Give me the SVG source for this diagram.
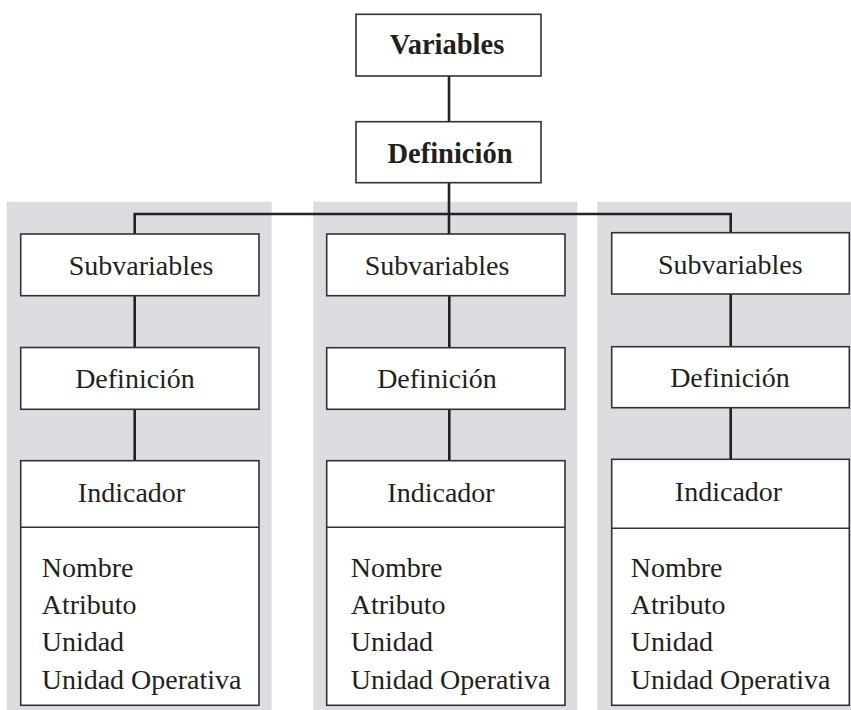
<svg xmlns="http://www.w3.org/2000/svg" width="851" height="710" viewBox="0 0 851 710">
  <rect width="851" height="710" fill="#ffffff"/>
  <g id="panels" fill="#dcdde0">
    <rect x="6.7" y="201.7" width="265" height="508.3"/>
    <rect x="313.3" y="201.7" width="264" height="508.3"/>
    <rect x="597.3" y="201.7" width="253.7" height="508.3"/>
  </g>
  <g id="connectors" stroke="#222222" stroke-width="2.6" fill="none">
    <line x1="449" y1="76" x2="449" y2="121.7"/>
    <line x1="449" y1="182.7" x2="449" y2="234"/>
    <polyline points="134.7,234 134.7,214 730.7,214 730.7,233"/>
    <line x1="134.7" y1="295.7" x2="134.7" y2="347.5"/>
    <line x1="134.7" y1="409.3" x2="134.7" y2="460.7"/>
    <line x1="449.3" y1="295.7" x2="449.3" y2="347.7"/>
    <line x1="449.3" y1="409.3" x2="449.3" y2="460.7"/>
    <line x1="730.7" y1="294" x2="730.7" y2="346.7"/>
    <line x1="730.7" y1="407.7" x2="730.7" y2="459.3"/>
  </g>
  <g id="variables">
    <rect x="356" y="14.3" width="185" height="61.7" fill="#ffffff" stroke="#333333" stroke-width="1.6"/>
    <text x="447" y="54.3" text-anchor="middle" fill="#231f20" font-family="Liberation Serif" style="font-family: 'Liberation Serif', serif; font-size: 28.5px; font-weight: bold">Variables</text>
  </g>
  <g id="definicion">
    <rect x="356" y="121.7" width="185" height="61" fill="#ffffff" stroke="#333333" stroke-width="1.6"/>
    <text x="450" y="162.7" text-anchor="middle" fill="#231f20" font-family="Liberation Serif" style="font-family: 'Liberation Serif', serif; font-size: 28.5px; font-weight: bold">Definición</text>
  </g>
  <g id="subvariables-1">
    <rect x="20.7" y="234" width="238.3" height="61.7" fill="#ffffff" stroke="#333333" stroke-width="1.6"/>
    <text x="141" y="275" text-anchor="middle" fill="#231f20" font-family="Liberation Serif" style="font-family: 'Liberation Serif', serif; font-size: 28px">Subvariables</text>
  </g>
  <g id="definicion-1">
    <rect x="20.7" y="347.5" width="238.3" height="61.8" fill="#ffffff" stroke="#333333" stroke-width="1.6"/>
    <text x="135" y="388" text-anchor="middle" fill="#231f20" font-family="Liberation Serif" style="font-family: 'Liberation Serif', serif; font-size: 28px">Definición</text>
  </g>
  <g id="indicador-1">
    <rect x="20.7" y="460.7" width="238.3" height="244.6" fill="#ffffff" stroke="#333333" stroke-width="1.6"/>
    <line x1="20.7" y1="527.3" x2="259" y2="527.3" stroke="#333333" stroke-width="1.6"/>
    <text x="131.5" y="501.7" text-anchor="middle" fill="#231f20" font-family="Liberation Serif" style="font-family: 'Liberation Serif', serif; font-size: 28px">Indicador</text>
    <text x="41.7" y="577" fill="#231f20" font-family="Liberation Serif" style="font-family: 'Liberation Serif', serif; font-size: 28px">Nombre</text>
    <text x="41.7" y="614" fill="#231f20" font-family="Liberation Serif" style="font-family: 'Liberation Serif', serif; font-size: 28px">Atributo</text>
    <text x="41.7" y="651" fill="#231f20" font-family="Liberation Serif" style="font-family: 'Liberation Serif', serif; font-size: 28px">Unidad</text>
    <text x="41.7" y="688.5" fill="#231f20" font-family="Liberation Serif" style="font-family: 'Liberation Serif', serif; font-size: 28px">Unidad Operativa</text>
  </g>
  <g id="subvariables-2">
    <rect x="326.7" y="234" width="238.3" height="61.7" fill="#ffffff" stroke="#333333" stroke-width="1.6"/>
    <text x="437" y="274.5" text-anchor="middle" fill="#231f20" font-family="Liberation Serif" style="font-family: 'Liberation Serif', serif; font-size: 28px">Subvariables</text>
  </g>
  <g id="definicion-2">
    <rect x="326.7" y="347.7" width="238.3" height="61.6" fill="#ffffff" stroke="#333333" stroke-width="1.6"/>
    <text x="437" y="387.7" text-anchor="middle" fill="#231f20" font-family="Liberation Serif" style="font-family: 'Liberation Serif', serif; font-size: 28px">Definición</text>
  </g>
  <g id="indicador-2">
    <rect x="326.7" y="460.7" width="238.3" height="244.6" fill="#ffffff" stroke="#333333" stroke-width="1.6"/>
    <line x1="326.7" y1="527.3" x2="565" y2="527.3" stroke="#333333" stroke-width="1.6"/>
    <text x="441" y="501.7" text-anchor="middle" fill="#231f20" font-family="Liberation Serif" style="font-family: 'Liberation Serif', serif; font-size: 28px">Indicador</text>
    <text x="350.7" y="577" fill="#231f20" font-family="Liberation Serif" style="font-family: 'Liberation Serif', serif; font-size: 28px">Nombre</text>
    <text x="350.7" y="614" fill="#231f20" font-family="Liberation Serif" style="font-family: 'Liberation Serif', serif; font-size: 28px">Atributo</text>
    <text x="350.7" y="651" fill="#231f20" font-family="Liberation Serif" style="font-family: 'Liberation Serif', serif; font-size: 28px">Unidad</text>
    <text x="350.7" y="688.5" fill="#231f20" font-family="Liberation Serif" style="font-family: 'Liberation Serif', serif; font-size: 28px">Unidad Operativa</text>
  </g>
  <g id="subvariables-3">
    <rect x="611.7" y="232.7" width="237.6" height="61.3" fill="#ffffff" stroke="#333333" stroke-width="1.6"/>
    <text x="730.3" y="273.5" text-anchor="middle" fill="#231f20" font-family="Liberation Serif" style="font-family: 'Liberation Serif', serif; font-size: 28px">Subvariables</text>
  </g>
  <g id="definicion-3">
    <rect x="611.7" y="346.7" width="237.6" height="61" fill="#ffffff" stroke="#333333" stroke-width="1.6"/>
    <text x="730" y="387" text-anchor="middle" fill="#231f20" font-family="Liberation Serif" style="font-family: 'Liberation Serif', serif; font-size: 28px">Definición</text>
  </g>
  <g id="indicador-3">
    <rect x="611.7" y="459.3" width="237.6" height="246" fill="#ffffff" stroke="#333333" stroke-width="1.6"/>
    <line x1="611.7" y1="528.3" x2="849.3" y2="528.3" stroke="#333333" stroke-width="1.6"/>
    <text x="728.5" y="501" text-anchor="middle" fill="#231f20" font-family="Liberation Serif" style="font-family: 'Liberation Serif', serif; font-size: 28px">Indicador</text>
    <text x="630.7" y="577" fill="#231f20" font-family="Liberation Serif" style="font-family: 'Liberation Serif', serif; font-size: 28px">Nombre</text>
    <text x="630.7" y="614" fill="#231f20" font-family="Liberation Serif" style="font-family: 'Liberation Serif', serif; font-size: 28px">Atributo</text>
    <text x="630.7" y="651" fill="#231f20" font-family="Liberation Serif" style="font-family: 'Liberation Serif', serif; font-size: 28px">Unidad</text>
    <text x="630.7" y="688.5" fill="#231f20" font-family="Liberation Serif" style="font-family: 'Liberation Serif', serif; font-size: 28px">Unidad Operativa</text>
  </g>
</svg>
